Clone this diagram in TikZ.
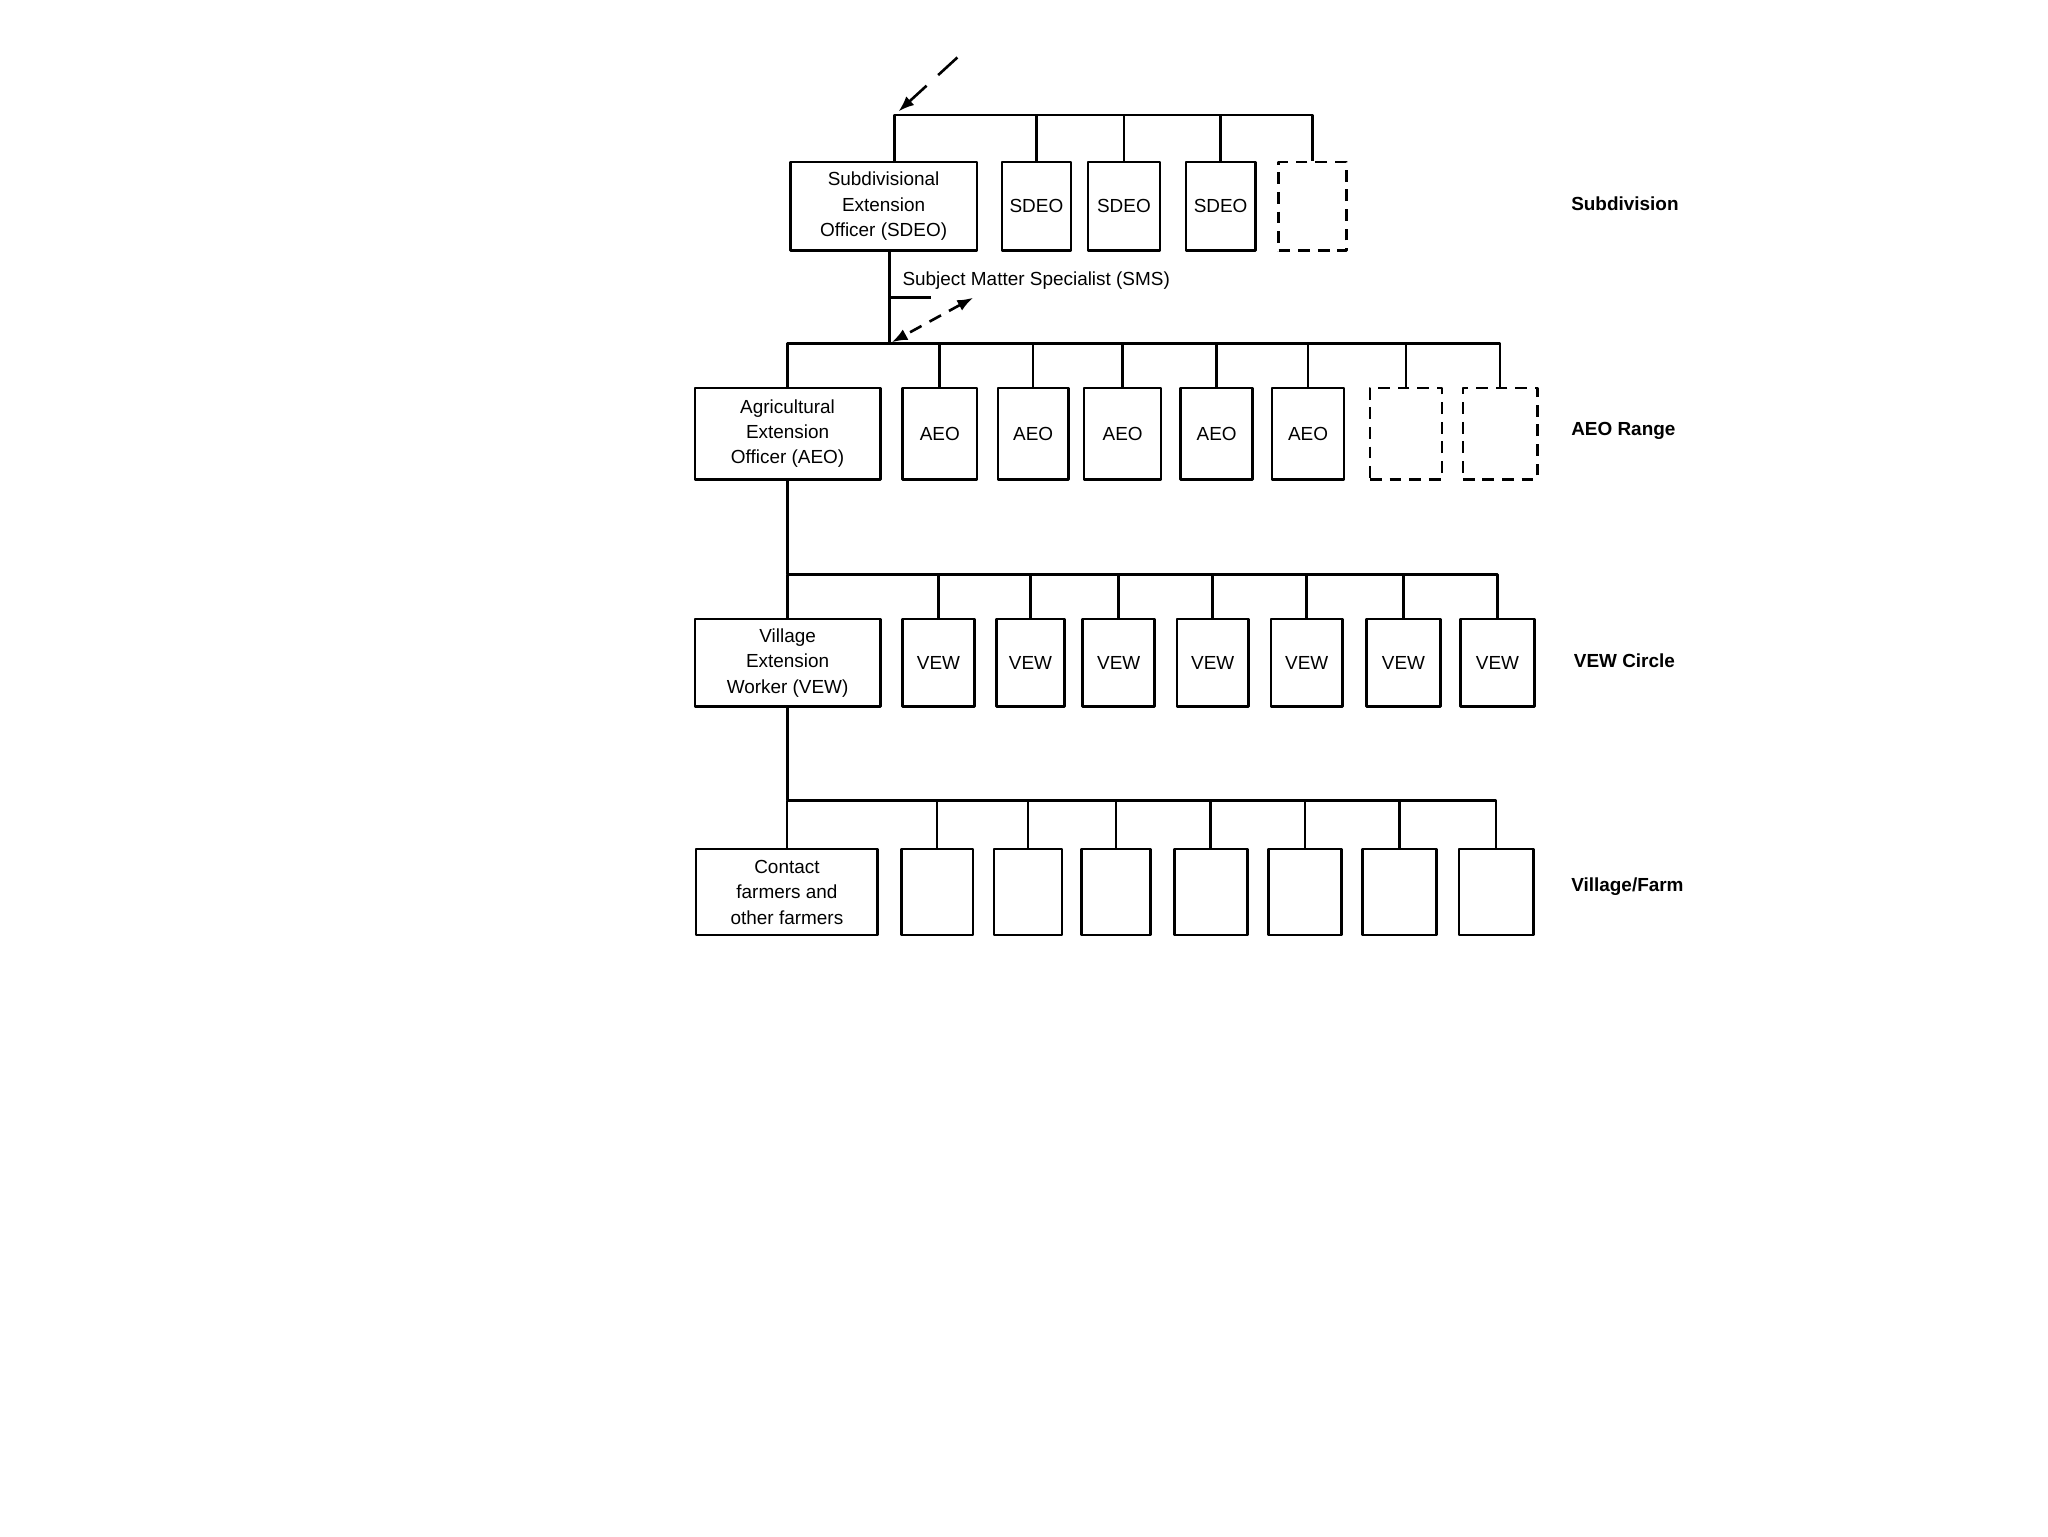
\documentclass[tikz,border=0pt]{standalone}
\usepackage{fontspec}
\setmainfont{Liberation Sans}
\usetikzlibrary{arrows.meta}

\begin{document}
\begin{tikzpicture}[>={Latex[length=12bp,width=9bp]},line join=bevel,
  unit/.style={draw,rectangle,inner sep=0pt,align=center,font=\fontsize{14.5bp}{19.5bp}\selectfont},
  vacant/.style={unit,dash pattern=on 9bp off 6bp},
  level/.style={anchor=west,inner sep=0pt,font=\fontsize{14.5bp}{17bp}\selectfont\bfseries}]

\useasboundingbox (0bp,0bp) rectangle (1568bp,1176bp);
\pgfsetlinewidth{2bp}
\pgfsetcolor{black}

% Node: SDEO row
\node[unit,minimum width=143bp,minimum height=68bp] (sdeo) at (676.5bp,1018bp) {Subdivisional\\Extension\\Officer (SDEO)};
\node[unit,minimum width=53bp,minimum height=68bp] (sdeo1) at (793.5bp,1018bp) {SDEO};
\node[unit,minimum width=55bp,minimum height=68bp] (sdeo2) at (860.5bp,1018bp) {SDEO};
\node[unit,minimum width=53bp,minimum height=68bp] (sdeo3) at (934.5bp,1018bp) {SDEO};
\node[vacant,minimum width=52bp,minimum height=68bp] (sdeo4) at (1005bp,1018bp) {};

% Node: AEO row
\node[unit,minimum width=142bp,minimum height=70bp] (aeo) at (603bp,844bp) {Agricultural\\Extension\\Officer (AEO)};
\node[unit,minimum width=57bp,minimum height=70bp] (aeo1) at (719.5bp,844bp) {AEO};
\node[unit,minimum width=54bp,minimum height=70bp] (aeo2) at (791bp,844bp) {AEO};
\node[unit,minimum width=59bp,minimum height=70bp] (aeo3) at (859.5bp,844bp) {AEO};
\node[unit,minimum width=55bp,minimum height=70bp] (aeo4) at (931.5bp,844bp) {AEO};
\node[unit,minimum width=55bp,minimum height=70bp] (aeo5) at (1001.5bp,844bp) {AEO};
\node[vacant,minimum width=55bp,minimum height=70bp] (aeo6) at (1076.5bp,844bp) {};
\node[vacant,minimum width=57bp,minimum height=70bp] (aeo7) at (1148.5bp,844bp) {};

% Node: VEW row
\node[unit,minimum width=142bp,minimum height=67bp] (vew) at (603bp,668.5bp) {Village\\Extension\\Worker (VEW)};
\node[unit,minimum width=55bp,minimum height=67bp] (vew1) at (718.5bp,668.5bp) {VEW};
\node[unit,minimum width=52bp,minimum height=67bp] (vew2) at (789bp,668.5bp) {VEW};
\node[unit,minimum width=55bp,minimum height=67bp] (vew3) at (856.5bp,668.5bp) {VEW};
\node[unit,minimum width=55bp,minimum height=67bp] (vew4) at (928.5bp,668.5bp) {VEW};
\node[unit,minimum width=55bp,minimum height=67bp] (vew5) at (1000.5bp,668.5bp) {VEW};
\node[unit,minimum width=57bp,minimum height=67bp] (vew6) at (1074.5bp,668.5bp) {VEW};
\node[unit,minimum width=57bp,minimum height=67bp] (vew7) at (1146.5bp,668.5bp) {VEW};

% Node: farm row
\node[unit,minimum width=139bp,minimum height=66bp] (farm) at (602.5bp,493bp) {Contact\\farmers and\\other farmers};
\node[unit,minimum width=55bp,minimum height=66bp] (farm1) at (717.5bp,493bp) {};
\node[unit,minimum width=52bp,minimum height=66bp] (farm2) at (787bp,493bp) {};
\node[unit,minimum width=53bp,minimum height=66bp] (farm3) at (854.5bp,493bp) {};
\node[unit,minimum width=56bp,minimum height=66bp] (farm4) at (927bp,493bp) {};
\node[unit,minimum width=56bp,minimum height=66bp] (farm5) at (999bp,493bp) {};
\node[unit,minimum width=57bp,minimum height=66bp] (farm6) at (1071.5bp,493bp) {};
\node[unit,minimum width=57bp,minimum height=66bp] (farm7) at (1145.5bp,493bp) {};

% Node: levels
\node[level] (lsub) at (1202bp,1020bp) {Subdivision};
\node[level] (lrange) at (1202bp,846bp) {AEO Range};
\node[level] (lcircle) at (1204bp,670bp) {VEW Circle};
\node[level] (lfarm) at (1202bp,497bp) {Village/Farm};

% Edge: bus -> SDEO row
\coordinate (subbus) at (685bp,1088bp);
\coordinate (above) at (733bp,1132bp);
\draw [->,dash pattern=on 20bp off 12bp,shorten >=4bp] (above) -- (subbus);
\draw (sdeo.north -| subbus) -- (subbus) -- (subbus -| sdeo4.north) -- (sdeo4.north);
\draw (sdeo1.north) -- (sdeo1.north |- subbus) (sdeo2.north) -- (sdeo2.north |- subbus)
      (sdeo3.north) -- (sdeo3.north |- subbus);

% Edge: SDEO -> AEO row, with SMS
\coordinate (aeobus) at (681bp,913bp);
\coordinate (smstick) at (713bp,948bp);
\coordinate (smsend) at (745bp,948bp);
\draw (sdeo.south -| aeobus) -- (aeobus);
\draw (smstick -| aeobus) -- (smstick);
\node[anchor=west,inner sep=0pt,font=\fontsize{14.5bp}{17bp}\selectfont] (sms) at (690bp,961bp) {Subject Matter Specialist (SMS)};
\draw [<->,dash pattern=on 10bp off 7bp,shorten >=2bp] (smsend) -- (aeobus);
\draw (aeo.north) -- (aeo.north |- aeobus) -- (aeobus -| aeo7.north) -- (aeo7.north);
\draw (aeo1.north) -- (aeo1.north |- aeobus) (aeo2.north) -- (aeo2.north |- aeobus)
      (aeo3.north) -- (aeo3.north |- aeobus) (aeo4.north) -- (aeo4.north |- aeobus)
      (aeo5.north) -- (aeo5.north |- aeobus) (aeo6.north) -- (aeo6.north |- aeobus);

% Edge: AEO -> VEW row
\coordinate (vewbus) at (605bp,736bp);
\draw (aeo.south) -- (aeo.south |- vewbus) -- (vewbus -| vew7.north) -- (vew7.north);
\draw (vew.north) -- (vew.north |- vewbus);
\draw (vew1.north) -- (vew1.north |- vewbus) (vew2.north) -- (vew2.north |- vewbus)
      (vew3.north) -- (vew3.north |- vewbus) (vew4.north) -- (vew4.north |- vewbus)
      (vew5.north) -- (vew5.north |- vewbus) (vew6.north) -- (vew6.north |- vewbus);

% Edge: VEW -> farm row
\coordinate (farmbus) at (605bp,563bp);
\draw (vew.south) -- (vew.south |- farmbus) -- (farmbus -| farm7.north) -- (farm7.north);
\draw (farm.north) -- (farm.north |- farmbus);
\draw (farm1.north) -- (farm1.north |- farmbus) (farm2.north) -- (farm2.north |- farmbus)
      (farm3.north) -- (farm3.north |- farmbus) (farm4.north) -- (farm4.north |- farmbus)
      (farm5.north) -- (farm5.north |- farmbus) (farm6.north) -- (farm6.north |- farmbus);

\end{tikzpicture}
\end{document}
